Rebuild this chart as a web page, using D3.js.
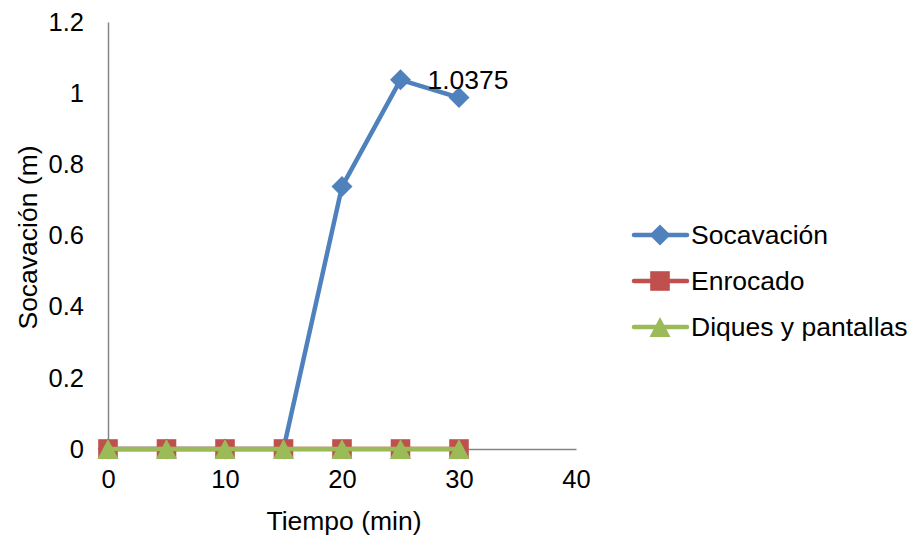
<!DOCTYPE html>
<html>
<head>
<meta charset="utf-8">
<script src="https://cdn.jsdelivr.net/npm/d3@7"></script>
<style>
  body { margin: 0; background: #fff; }
  svg { display: block; }
  text { font-family: "Liberation Sans", Arial, sans-serif; fill: #000; }
</style>
</head>
<body>
<svg id="chart" width="914" height="538"></svg>
<script>
const tiempo = [0, 5, 10, 15, 20, 25, 30];
const socavacion = [0, 0, 0, 0, 0.7375, 1.0375, 0.9875];
const enrocado = [0, 0, 0, 0, 0, 0, 0];
const diques = [0, 0, 0, 0, 0, 0, 0];
const seriesNames = ["Socavación", "Enrocado", "Diques y pantallas"];
const xTicks = [0, 10, 20, 30, 40];
const yTicks = [0, 0.2, 0.4, 0.6, 0.8, 1, 1.2];
const xTitle = "Tiempo (min)";
const yTitle = "Socavación (m)";
const labelValue = "1.0375";

const colors = ["#4F81BD", "#C0504D", "#9BBB59"];
const tickFs = 25.5;
const fs = 26.5;

// custom Excel-like markers
const markerPaths = [
  "M0,-10.5L10.5,0L0,10.5L-10.5,0Z",          // diamond
  "M-9.8,-9.8L9.8,-9.8L9.8,9.8L-9.8,9.8Z",   // square
  "M0,-10L10.5,10L-10.5,10Z"                  // triangle
];

const svg = d3.select("#chart");
const x = d3.scaleLinear().domain([0, 40]).range([108, 576]);
const y = d3.scaleLinear().domain([0, 1.2]).range([449, 22]);

// axes
const xAxis = svg.append("g").attr("transform", `translate(0,${y(0)})`)
  .call(d3.axisBottom(x).tickValues(xTicks).tickSize(0).tickPadding(21).tickFormat(d3.format("d")));
const yAxis = svg.append("g").attr("transform", `translate(${x(0)},0)`)
  .call(d3.axisLeft(y).tickValues(yTicks).tickSize(0).tickPadding(24).tickFormat(d => String(d)));
[xAxis, yAxis].forEach(a => {
  a.select(".domain").attr("stroke", "#868686").attr("stroke-width", 1.5);
  a.selectAll("text").attr("font-size", tickFs).attr("font-family", '"Liberation Sans", Arial, sans-serif').attr("fill", "#000");
});

// titles
svg.append("text").attr("x", (x(0) + x(40)) / 2 + 2).attr("y", 530)
  .attr("text-anchor", "middle").attr("font-size", fs).text(xTitle);
svg.append("text").attr("transform", `translate(37,${(y(0) + y(1.2)) / 2 + 2}) rotate(-90)`)
  .attr("text-anchor", "middle").attr("font-size", fs).text(yTitle);

const allSeries = [socavacion, enrocado, diques];
const line = d3.line().x((d, i) => x(tiempo[i])).y(d => y(d));

allSeries.forEach((vals, si) => {
  const g = svg.append("g");
  g.append("path").datum(vals).attr("d", line)
    .attr("fill", "none").attr("stroke", colors[si]).attr("stroke-width", 4.5)
    .attr("stroke-linejoin", "round");
  g.selectAll("path.m").data(vals).join("path").attr("class", "m")
    .attr("transform", (d, i) => `translate(${x(tiempo[i])},${y(d)})`)
    .attr("d", markerPaths[si])
    .attr("fill", colors[si]);
});

// data label
svg.append("text").attr("x", x(25) + 27).attr("y", y(1.0375) + 9)
  .attr("font-size", fs).text(labelValue);

// legend
const legY = [235, 281, 327];
seriesNames.forEach((name, i) => {
  const g = svg.append("g").attr("transform", `translate(0,${legY[i]})`);
  g.append("line").attr("x1", 634).attr("x2", 687).attr("y1", 0).attr("y2", 0)
    .attr("stroke", colors[i]).attr("stroke-width", 4.5).attr("stroke-linecap", "round");
  g.append("path").attr("transform", `translate(660,0)`)
    .attr("d", markerPaths[i]).attr("fill", colors[i]);
  g.append("text").attr("x", 691).attr("y", 9).attr("font-size", fs).text(name);
});
</script>
</body>
</html>
